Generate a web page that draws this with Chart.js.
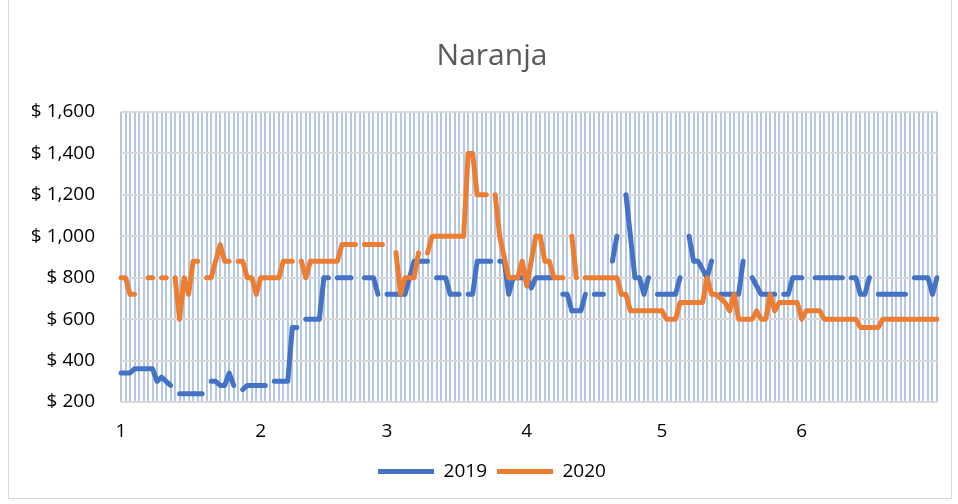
<!DOCTYPE html>
<html>
<head>
<meta charset="utf-8">
<script src="https://cdn.jsdelivr.net/npm/chart.js@4.4.1/dist/chart.umd.min.js"></script>
<style>
  html, body { margin: 0; padding: 0; background: #ffffff; }
  #wrap { position: relative; width: 958px; height: 504px; overflow: hidden; }
  #frame { position: absolute; left: 8px; top: -1px; width: 944px; height: 500px; border: 1px solid #d9d9d9; box-sizing: border-box; }
  canvas { position: absolute; left: 0; top: 0; }
</style>
</head>
<body>
<div id="wrap">
  <div id="frame"></div>
  <canvas id="c" width="958" height="504"></canvas>
</div>
<script>
// Month numbers shown on the axis and the number of days in each month (Jan–Jun)
const monthLabels = ['1', '2', '3', '4', '5', '6'];
const monthDays = [31, 28, 31, 30, 31, 30];

// Category for each day: month number on the first day of the month, blank otherwise (plus 1 July)
const categories = [];
monthLabels.forEach((m, k) => {
  for (let d = 1; d <= monthDays[k]; d++) categories.push(d === 1 ? m : '');
});
categories.push('');

const series2019 = [
  340,340,340,360,360,360,360,360,300,320,
  300,280,null,240,240,240,240,240,240,null,
  300,300,280,280,340,280,null,260,280,280,
  280,280,280,null,300,300,300,300,560,560,
  null,600,600,600,600,800,800,null,800,800,
  800,800,null,null,800,800,800,720,null,720,
  720,720,720,720,800,880,880,880,880,null,
  800,800,800,720,720,720,null,720,720,880,
  880,880,880,null,880,880,720,800,800,800,
  800,750,800,800,800,800,800,null,720,720,
  640,640,640,720,null,720,720,720,null,880,
  1000,null,1200,1000,800,800,720,800,null,720,
  720,720,720,720,800,null,1000,880,880,840,
  800,880,null,720,720,720,720,720,880,null,
  800,760,720,720,720,720,null,720,720,800,
  800,800,null,null,800,800,800,800,800,800,
  800,null,800,800,720,720,800,null,720,720,
  720,720,720,720,720,null,800,800,800,800,
  720,800
];

const series2020 = [
  800,800,720,720,null,null,800,800,null,800,
  800,null,800,600,800,720,880,880,null,800,
  800,880,960,880,880,null,880,880,800,800,
  720,800,800,800,800,800,880,880,880,null,
  880,800,880,880,880,880,880,880,880,960,
  960,960,960,null,960,960,960,960,960,null,
  null,920,720,800,800,800,920,null,920,1000,
  1000,1000,1000,1000,1000,1000,1000,1400,1400,1200,
  1200,1200,null,1200,1000,900,800,800,800,880,
  760,880,1000,1000,880,880,800,800,800,null,
  1000,800,null,800,800,800,800,800,800,800,
  800,720,720,640,640,640,640,640,640,640,
  640,600,600,600,680,680,680,680,680,680,
  800,720,720,700,680,640,720,600,600,600,
  600,640,600,600,720,640,680,680,680,680,
  680,600,640,640,640,640,600,600,600,600,
  600,600,600,600,560,560,560,560,560,600,
  600,600,600,600,600,600,600,600,600,600,
  600,600
];

const seriesNames = ['2019', '2020'];

Chart.defaults.font.family = "'Open Sans', sans-serif";

new Chart(document.getElementById('c'), {
  type: 'line',
  data: {
    labels: categories,
    datasets: [
      {
        label: seriesNames[0],
        data: series2019,
        borderColor: '#4472C4',
        backgroundColor: '#4472C4',
        borderWidth: 5,
        borderCapStyle: 'round',
        borderJoinStyle: 'round',
        pointRadius: 0,
        pointHoverRadius: 0,
        tension: 0,
        spanGaps: false,
        order: 1
      },
      {
        label: seriesNames[1],
        data: series2020,
        borderColor: '#ED7D31',
        backgroundColor: '#ED7D31',
        borderWidth: 5,
        borderCapStyle: 'round',
        borderJoinStyle: 'round',
        pointRadius: 0,
        pointHoverRadius: 0,
        tension: 0,
        spanGaps: false,
        order: 0
      }
    ]
  },
  options: {
    responsive: false,
    animation: false,
    devicePixelRatio: 1,
    layout: { padding: { left: 47, right: 21, top: 0, bottom: 13 } },
    plugins: {
      tooltip: { enabled: false },
      title: {
        display: true,
        text: 'Naranja',
        color: '#595959',
        font: { size: 30, weight: 'normal' },
        padding: { top: 38, bottom: 38 }
      },
      legend: {
        position: 'bottom',
        labels: {
          usePointStyle: true,
          pointStyle: 'line',
          pointStyleWidth: 56,
          boxHeight: 5,
          padding: 10,
          color: '#000000',
          font: { size: 19 },
          sort: (a, b) => a.datasetIndex - b.datasetIndex
        }
      }
    },
    scales: {
      x: {
        type: 'category',
        offset: false,
        grid: { color: '#B4C7E7', lineWidth: 2, drawTicks: false },
        border: { display: false },
        ticks: {
          autoSkip: false,
          maxRotation: 0,
          minRotation: 0,
          padding: 18,
          color: '#000000',
          font: { size: 19 },
          callback: function (v, i) { return categories[i]; }
        },
        afterFit: function (scale) { scale.height = 50; }
      },
      y: {
        min: 200,
        max: 1600,
        grid: { color: '#D9D9D9', lineWidth: 2, drawTicks: false },
        border: { display: false },
        ticks: {
          stepSize: 200,
          padding: 26,
          color: '#000000',
          font: { size: 19 },
          callback: function (v) { return '$ ' + Number(v).toLocaleString('en-US'); }
        },
        afterFit: function (scale) {
          scale.width = 74;
          // let the tick labels extend left of the narrow axis box without being clipped
          scale._computeLabelArea = function () { return undefined; };
        }
      }
    }
  }
});
</script>
</body>
</html>
